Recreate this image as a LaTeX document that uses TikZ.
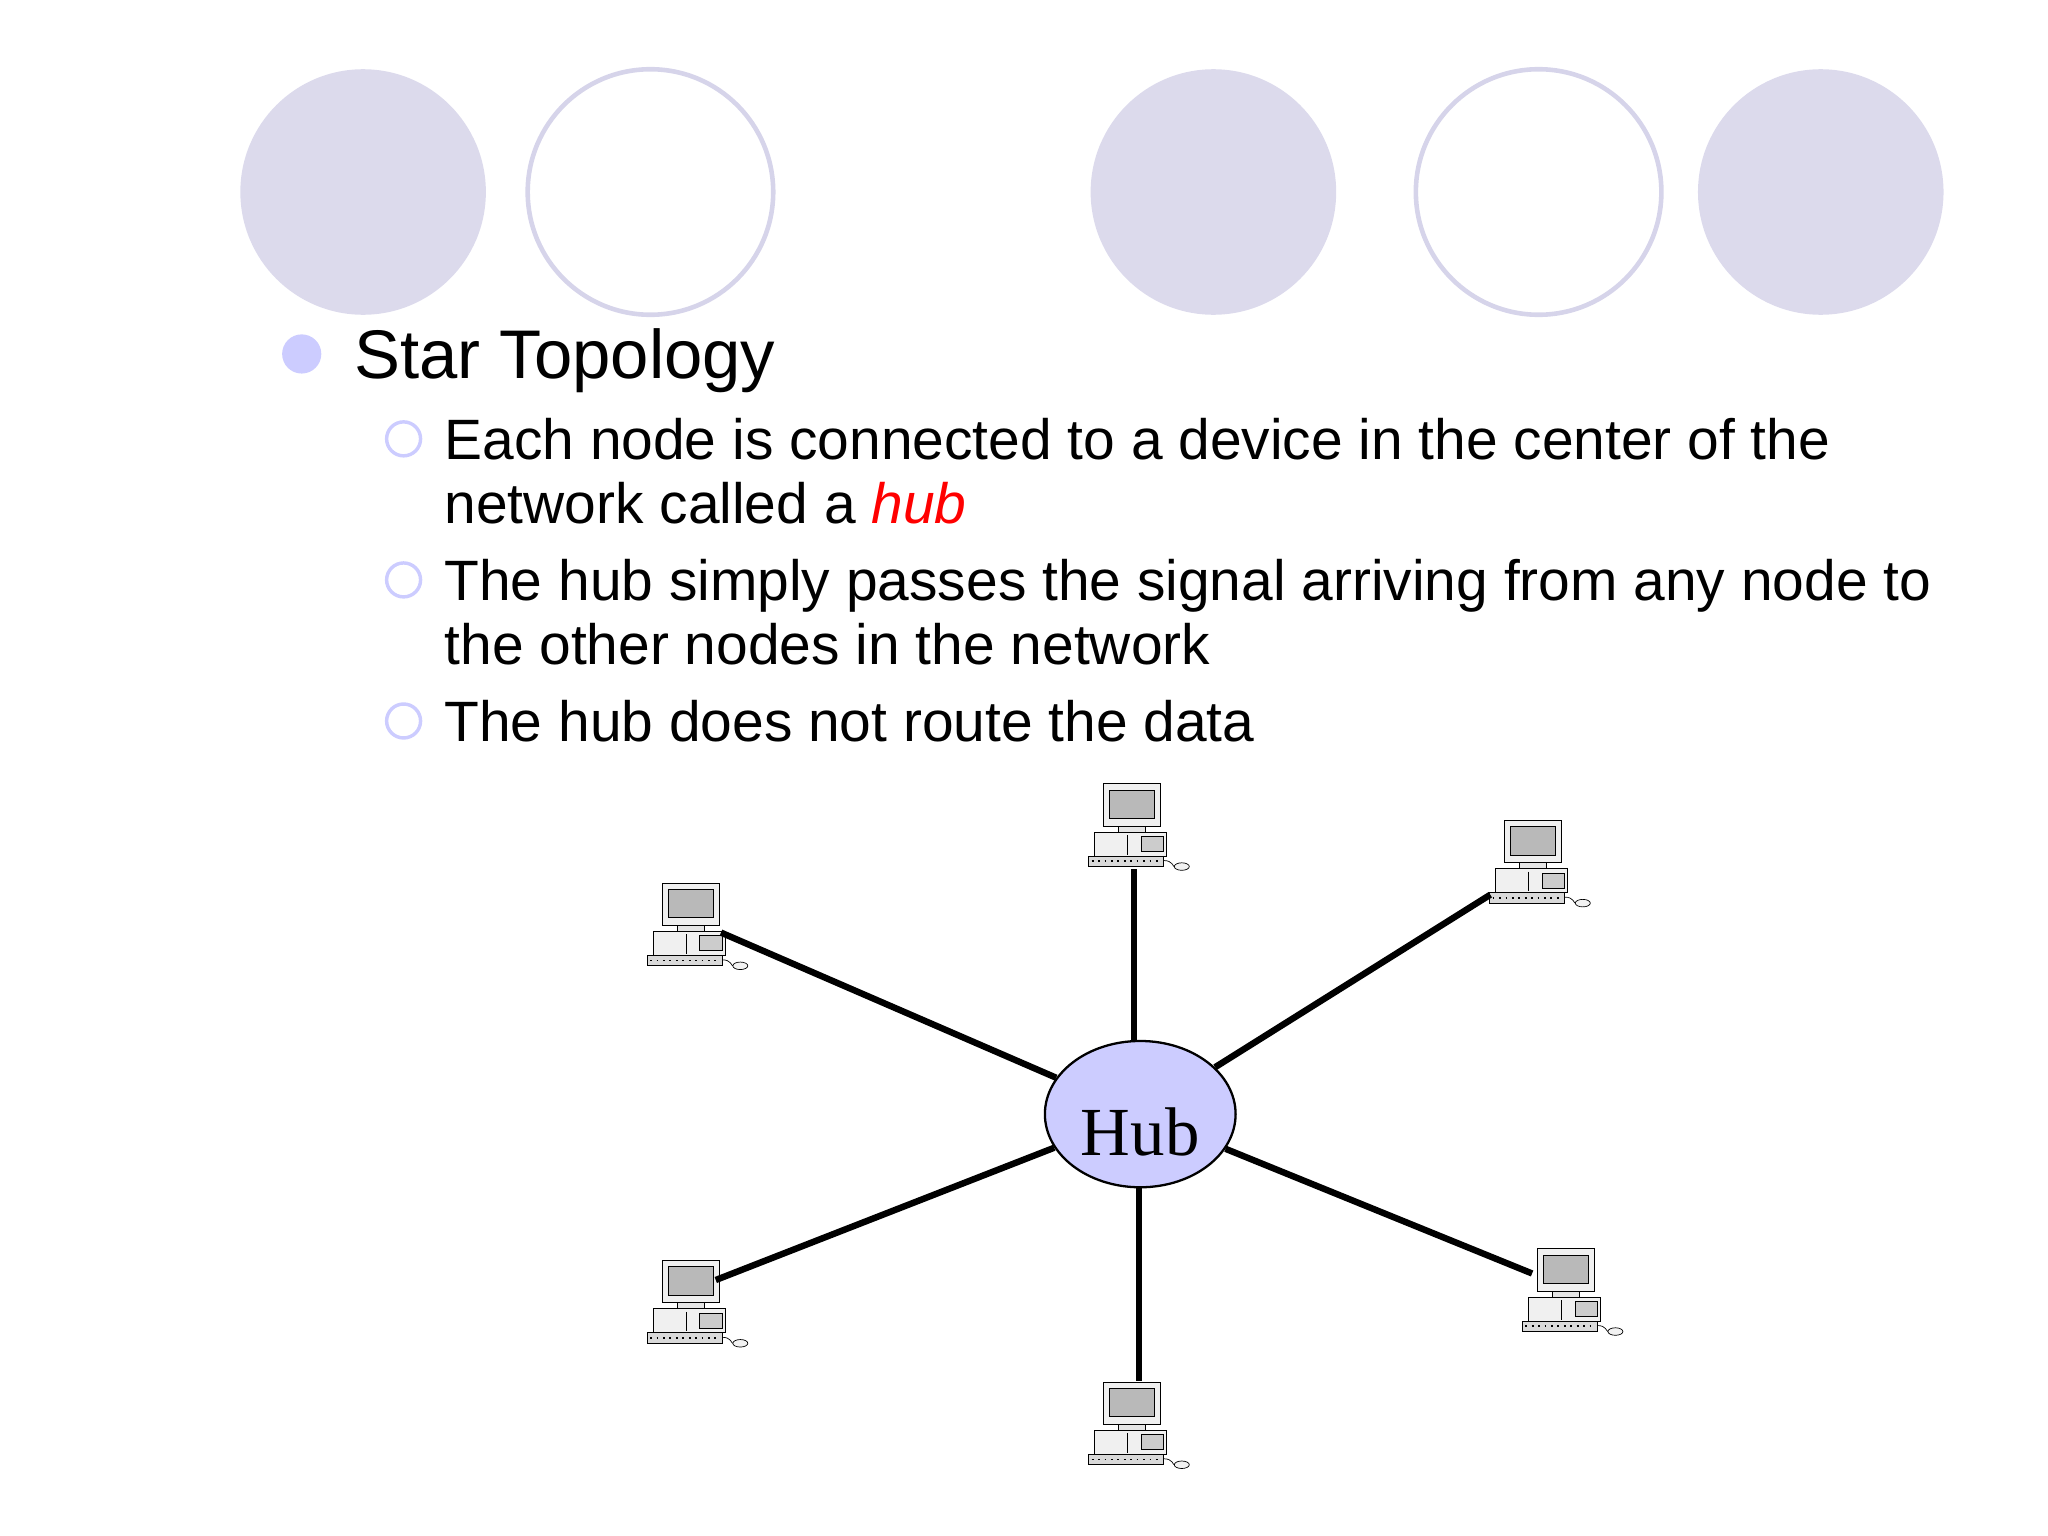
\documentclass[tikz,border=0pt]{standalone}
\usepackage{fontspec}
\setmainfont{Liberation Sans}
\newfontfamily\hubfont{Liberation Serif}
\usetikzlibrary{shapes.geometric}
\definecolor{deco}{HTML}{DCDAEC}
\definecolor{decoline}{HTML}{D6D4EA}
\definecolor{bul}{HTML}{CCCCFF}
\definecolor{hubfill}{HTML}{CCCCFF}
\tikzset{
  fcirc/.style={circle,fill=deco,minimum size=188*0.02cm,inner sep=0},
  ocirc/.style={circle,draw=decoline,line width=2pt,fill=white,minimum size=188*0.02cm,inner sep=0},
  subbul/.style={circle,draw=bul,line width=1.5pt,minimum size=26*0.02cm,inner sep=0},
  txt/.style={anchor=base west,inner sep=0,font=\fontsize{24.8}{28}\selectfont},
  link/.style={line width=2.8pt,black},
  pc/.pic={
    \begin{scope}[scale=1.15]
    \draw[black,line width=0.4pt,fill=gray!12] (-20,-32) rectangle (18,-4);
    \draw[black,line width=0.3pt,fill=gray!55] (-16,-28) rectangle (14,-9);
    \draw[black,line width=0.3pt,fill=gray!20] (-10,-4) rectangle (8,0);
    \draw[black,line width=0.4pt,fill=gray!12] (-26,0) rectangle (22,16);
    \draw[black,line width=0.3pt,fill=gray!40] (5,3) rectangle (20,13);
    \draw[black,line width=0.3pt] (-4,2) -- (-4,15);
    \draw[black,line width=0.4pt,fill=gray!30] (-30,16) rectangle (20,23);
    \draw[black,line width=0.8pt,dotted] (-28,19.5) -- (18,19.5);
    \draw[black,line width=0.3pt,fill=gray!10] (32,23) ellipse (5 and 2.5);
    \draw[black,line width=0.3pt] (20,19) .. controls (26,19) and (26,23) .. (27,23);
    \end{scope}
  }
}
\begin{document}
\begin{tikzpicture}[x=0.02cm,y=-0.02cm]
\useasboundingbox (0,0) rectangle (1568,1176);
% decorative circles
\node[fcirc] (c1) at (278,147) {};
\node[ocirc] (c2) at (498,147) {};
\node[fcirc] (c3) at (929,147) {};
\node[ocirc] (c4) at (1178,147) {};
\node[fcirc] (c5) at (1394,147) {};
% bullets and text
\node[circle,fill=bul,minimum size=30*0.02cm,inner sep=0] (b0) at (231,271) {};
\node[txt,font=\fontsize{30}{34}\selectfont] (title) at (271,290) {Star Topology};
\node[subbul] (b1) at (309,336) {};
\node[subbul] (b2) at (309,444) {};
\node[subbul] (b3) at (309,552) {};
\node[txt] (t1) at (340,352) {Each node is connected to a device in the center of the};
\node[txt] (t2) at (340,401) {network called a \textcolor{red}{\itshape hub}};
\node[txt] (t3) at (340,460) {The hub simply passes the signal arriving from any node to};
\node[txt] (t4) at (340,509) {the other nodes in the network};
\node[txt] (t5) at (340,568) {The hub does not route the data};
% hub
\node[ellipse,draw=black,line width=1pt,fill=hubfill,minimum width=146*0.02cm,minimum height=112*0.02cm,inner sep=0] (hub) at (873,853) {};
\node[anchor=base,inner sep=0,font=\hubfont\fontsize{30}{32}\selectfont] (hubtxt) at (873,885) {Hub};
% computers
\pic at (868,637) {pc};
\pic at (1175,665) {pc};
\pic at (530,713) {pc};
\pic at (530,1002) {pc};
\pic at (868,1095) {pc};
\pic at (1200,993) {pc};
\coordinate (pT) at (868,665);
\coordinate (pTR) at (1141,685);
\coordinate (pL) at (552,714);
\coordinate (pBL) at (548,980);
\coordinate (pB) at (872,1057);
\coordinate (pBR) at (1173,975);
\draw[link] (hub.north -| pT) -- (pT);
\draw[link] (hub) -- (pTR);
\draw[link] (hub) -- (pL);
\draw[link] (hub) -- (pBL);
\draw[link] (hub.south -| pB) -- (pB);
\draw[link] (hub) -- (pBR);
\end{tikzpicture}
\end{document}
